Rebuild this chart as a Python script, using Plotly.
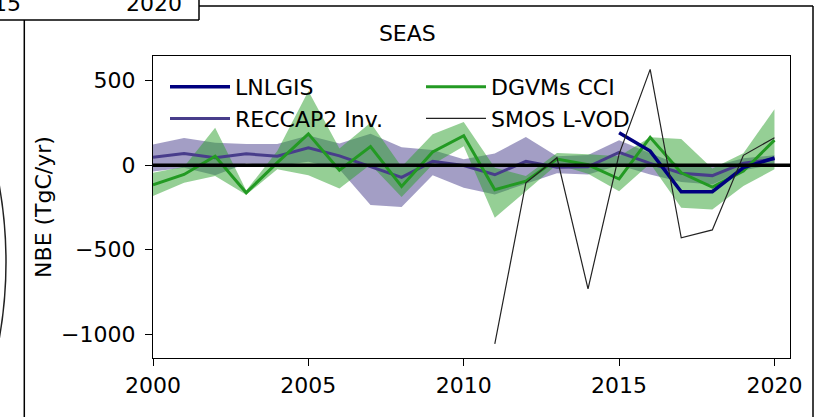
import plotly.graph_objects as go

years = list(range(2000, 2021))

reccap_mean = [47, 69, 44, 67, 53, 103, 55, -8, -72, 22, -2, -57, 22, -12, -10, 75, 10, -48, -62, 12, 36]
reccap_upper = [122, 160, 132, 125, 125, 175, 128, 185, 105, 90, 35, 68, 166, 53, 60, 147, 70, 0, -8, 40, 58]
reccap_lower = [-37, -15, -60, 10, -5, 20, -25, -235, -247, -60, -134, -173, -110, -48, -55, 0, -55, -100, -115, -30, 2]

dgvm_mean = [-117, -55, 53, -163, 15, 185, -30, 110, -126, 78, 174, -145, -95, 36, 2, -82, 164, -45, -130, -35, 148]
dgvm_upper = [-45, -10, 221, -150, 83, 438, 98, 251, -10, 182, 255, -15, -65, 71, 65, 53, 165, 155, -20, 70, 330]
dgvm_lower = [-183, -104, -65, -175, -25, -60, -138, 4, -189, 4, 112, -311, -154, 4, -51, -154, 10, -252, -262, -124, -25]

lnlgis = [None] * 15 + [192, 83, -157, -157, -15, 42]
smos = [None] * 11 + [-1057, -104, 44, -731, 65, 566, -430, -383, 58, 162]

x_ticks = [2000, 2005, 2010, 2015, 2020]
y_ticks = [500, 0, -500, -1000]

FONT = "DejaVu Sans"
FS = 22
PURPLE = "#483d8b"
PURPLE_FILL = "rgba(72,61,139,0.5)"
GREEN = "#239a23"
GREEN_FILL = "rgba(44,160,44,0.5)"
NAVY = "#00007f"

fig = go.Figure()

# bands
fig.add_trace(go.Scatter(x=years, y=reccap_upper, mode="lines", line=dict(width=0, color=PURPLE),
                         showlegend=False, hoverinfo="skip"))
fig.add_trace(go.Scatter(x=years, y=reccap_lower, mode="lines", line=dict(width=0, color=PURPLE),
                         fill="tonexty", fillcolor=PURPLE_FILL, showlegend=False, hoverinfo="skip"))
fig.add_trace(go.Scatter(x=years, y=dgvm_upper, mode="lines", line=dict(width=0, color=GREEN),
                         showlegend=False, hoverinfo="skip"))
fig.add_trace(go.Scatter(x=years, y=dgvm_lower, mode="lines", line=dict(width=0, color=GREEN),
                         fill="tonexty", fillcolor=GREEN_FILL, showlegend=False, hoverinfo="skip"))

# lines
fig.add_trace(go.Scatter(x=years, y=reccap_mean, mode="lines", name="RECCAP2 Inv.",
                         line=dict(color=PURPLE, width=3), legend="legend"))
fig.add_trace(go.Scatter(x=years, y=dgvm_mean, mode="lines", name="DGVMs CCI",
                         line=dict(color=GREEN, width=3), legend="legend2"))
fig.add_trace(go.Scatter(x=years, y=lnlgis, mode="lines", name="LNLGIS",
                         line=dict(color=NAVY, width=3.5), legend="legend"))
fig.add_trace(go.Scatter(x=years, y=smos, mode="lines", name="SMOS L-VOD",
                         line=dict(color="#222222", width=1.2), legend="legend2"))

L, R, T, B = 153, 26, 56, 59
W, H = 816, 417
pw, ph = W - L - R, H - T - B


def px(x):
    return (x - L) / pw


def py(y):
    return (H - B - y) / ph


deco = dict(color="black", width=1.5)
shapes = [
    # zero line
    dict(type="line", xref="paper", yref="y", x0=0, x1=1, y0=0, y1=0,
         line=dict(color="black", width=3.5), layer="above"),
    # decorations of neighbouring panels
    dict(type="line", xref="paper", yref="paper", x0=px(-5), x1=px(199), y0=py(20), y1=py(20), line=deco),
    dict(type="line", xref="paper", yref="paper", x0=px(199), x1=px(199), y0=py(20), y1=py(-5), line=deco),
    dict(type="line", xref="paper", yref="paper", x0=px(199), x1=px(813), y0=py(6), y1=py(6), line=deco),
    dict(type="line", xref="paper", yref="paper", x0=px(813), x1=px(813), y0=py(6), y1=py(425), line=deco),
    dict(type="line", xref="paper", yref="paper", x0=px(24.3), x1=px(24.3), y0=py(20), y1=py(425), line=deco),
    dict(type="circle", xref="paper", yref="paper", x0=px(-864), x1=px(6), y0=py(262 + 435), y1=py(262 - 435),
         line=dict(color="#222222", width=1.5)),
]

annotations = [
    dict(text="2015", xref="paper", yref="paper", x=px(23), y=py(3), xanchor="right", yanchor="middle",
         showarrow=False, font=dict(family=FONT, size=FS, color="black")),
    dict(text="2020", xref="paper", yref="paper", x=px(154), y=py(3), xanchor="center", yanchor="middle",
         showarrow=False, font=dict(family=FONT, size=FS, color="black")),
]

fig.update_layout(
    width=W, height=H,
    margin=dict(l=L, r=R, t=T, b=B, autoexpand=False),
    paper_bgcolor="white", plot_bgcolor="white",
    font=dict(family=FONT, size=FS, color="black"),
    title=dict(text="SEAS", x=px(471), xanchor="center", y=1 - 33 / H, yanchor="middle",
               font=dict(family=FONT, size=FS, color="black")),
    xaxis=dict(range=[2000, 2020.5], tickvals=x_ticks, ticktext=[str(v) for v in x_ticks],
               showgrid=False, zeroline=False, showline=True, linecolor="black", linewidth=1.3,
               mirror=True, ticks="outside", ticklen=7, tickwidth=1.3, tickcolor="black",
               ticklabelstandoff=0, tickfont=dict(family=FONT, size=FS)),
    yaxis=dict(range=[-1140, 645], tickvals=y_ticks,
               ticktext=["500", "0", "\u2212500", "\u22121000"],
               showgrid=False, zeroline=False, showline=True, linecolor="black", linewidth=1.3,
               mirror=True, ticks="outside", ticklen=7, tickwidth=1.3, tickcolor="black",
               ticklabelstandoff=5, tickfont=dict(family=FONT, size=FS),
               title=dict(text="NBE (TgC/yr)", standoff=3, font=dict(family=FONT, size=FS))),
    legend=dict(x=px(165), y=py(66), xanchor="left", yanchor="top", bgcolor="rgba(0,0,0,0)",
                borderwidth=0, font=dict(family=FONT, size=FS), itemwidth=60, tracegroupgap=0,
                traceorder="reversed"),
    legend2=dict(x=px(421), y=py(66), xanchor="left", yanchor="top", bgcolor="rgba(0,0,0,0)",
                 borderwidth=0, font=dict(family=FONT, size=FS), itemwidth=60, tracegroupgap=0,
                 traceorder="normal"),
    shapes=shapes,
    annotations=annotations,
    showlegend=True,
)

fig.write_html("out.html", config={"displayModeBar": False},
               post_script="document.body.style.margin='0';document.body.style.overflow='hidden';")
